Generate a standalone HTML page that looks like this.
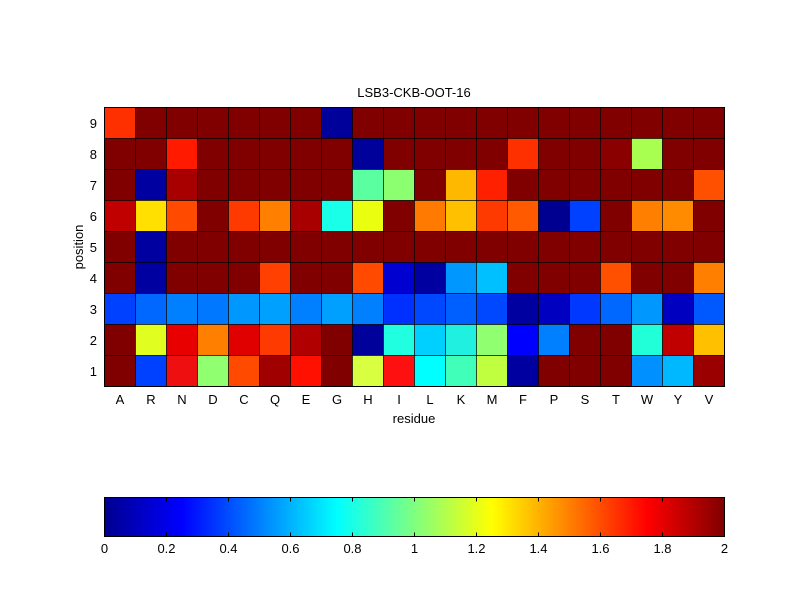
<!DOCTYPE html>
<html><head><meta charset="utf-8"><style>
body{margin:0;background:#fff;width:800px;height:600px;overflow:hidden}
svg{display:block;font-family:"Liberation Sans",sans-serif}
</style></head><body>
<svg id="s" width="800" height="600" xmlns="http://www.w3.org/2000/svg">
<defs><linearGradient id="jet" x1="0" x2="1" y1="0" y2="0">
<stop offset="0" stop-color="#00008f"/><stop offset="0.125" stop-color="#0000ff"/>
<stop offset="0.375" stop-color="#00ffff"/><stop offset="0.625" stop-color="#ffff00"/>
<stop offset="0.875" stop-color="#ff0000"/><stop offset="1" stop-color="#800000"/>
</linearGradient></defs>
<g id="cells"></g>
<rect x="104.5" y="107.5" width="620" height="279" fill="none" stroke="#000" stroke-width="1"/>
<text x="414" y="97" font-size="13" text-anchor="middle">LSB3-CKB-OOT-16</text>
<text x="414" y="423" font-size="13" text-anchor="middle">residue</text>
<text transform="translate(83,247) rotate(-90)" font-size="13" text-anchor="middle">position</text>
<g id="lab" font-size="13"></g>
<rect x="104.5" y="497.5" width="620" height="39" fill="url(#jet)" stroke="#000"/>
<g id="cb" font-size="13"></g>
</svg>
<script>
var D="#800000";
var rows=[
["#ff3000",D,D,D,D,D,D,"#00009a",D,D,D,D,D,D,D,D,D,D,D,D],
[D,D,"#ff1a00",D,D,D,D,D,"#00009a",D,D,D,D,"#ff3000",D,D,"#8a0000","#a8ff50",D,D],
[D,"#0000a0","#a80000",D,D,D,D,D,"#5affa0","#8cff70",D,"#ffb800","#ff2000",D,D,D,D,D,D,"#ff5000"],
["#c00000","#ffe000","#ff4a00",D,"#ff3a00","#ff8000","#a80000","#1affe8","#eaff10",D,"#ff7a00","#ffc000","#ff3a00","#ff5a00","#000090","#0040ff",D,"#ff8000","#ff8c00",D],
[D,"#0000a0",D,D,D,D,D,D,D,D,D,D,D,D,D,D,D,D,D,D],
[D,"#0000a0",D,D,D,"#ff4000",D,D,"#ff4a00","#0000d0","#0000a0","#0098ff","#00c0ff",D,D,D,"#ff5000",D,D,"#ff8000"],
["#0040ff","#0068ff","#0080ff","#0078ff","#0098ff","#00a0ff","#0080ff","#00a0ff","#0080ff","#0030ff","#0048ff","#0060ff","#0048ff","#0000a0","#0000c0","#0038ff","#0068ff","#0098ff","#0000c0","#0058ff"],
[D,"#e0ff20","#e80000","#ff8000","#e00000","#ff3a00","#b00000",D,"#00009a","#20ffe0","#00d0ff","#20f0e0","#90ff70","#0000ff","#0080ff",D,D,"#20ffd8","#c00000","#ffc000"],
[D,"#0040ff","#ee1010","#90ff70","#ff4a00","#a00000","#ff1000",D,"#d8ff40","#ff1010","#00ffff","#40ffb8","#c0ff40","#0000a0",D,D,D,"#0090ff","#00b8ff","#9a0000"]];
var ns="http://www.w3.org/2000/svg",g=document.getElementById("cells"),lab=document.getElementById("lab"),cb=document.getElementById("cb");
function el(t,a,p,txt){var e=document.createElementNS(ns,t);for(var k in a)e.setAttribute(k,a[k]);if(txt!=null)e.textContent=txt;p.appendChild(e);}
var cw=31,ch=31;
for(var r=0;r<9;r++)for(var c=0;c<20;c++)
 el("rect",{x:104.5+c*cw,y:107.5+r*ch,width:cw,height:ch,fill:rows[r][c],stroke:"#000","stroke-width":0.6},g);
var res="ARNDCQEGHILKMFPSTWYV";
for(var c=0;c<20;c++)el("text",{x:104.5+c*cw+cw/2,y:404,"text-anchor":"middle"},lab,res[c]);
for(var r=0;r<9;r++)el("text",{x:97,y:107.5+r*ch+ch/2+5,"text-anchor":"end"},lab,String(9-r));
var t=["0","0.2","0.4","0.6","0.8","1","1.2","1.4","1.6","1.8","2"];
for(var i=0;i<11;i++){var x=104.5+i*62;
 el("text",{x:x,y:553,"text-anchor":"middle"},cb,t[i]);
 el("line",{x1:x,x2:x,y1:497.5,y2:501.5,stroke:"#000"},cb);
 el("line",{x1:x,x2:x,y1:532.5,y2:536.5,stroke:"#000"},cb);}
</script>
</body></html>
